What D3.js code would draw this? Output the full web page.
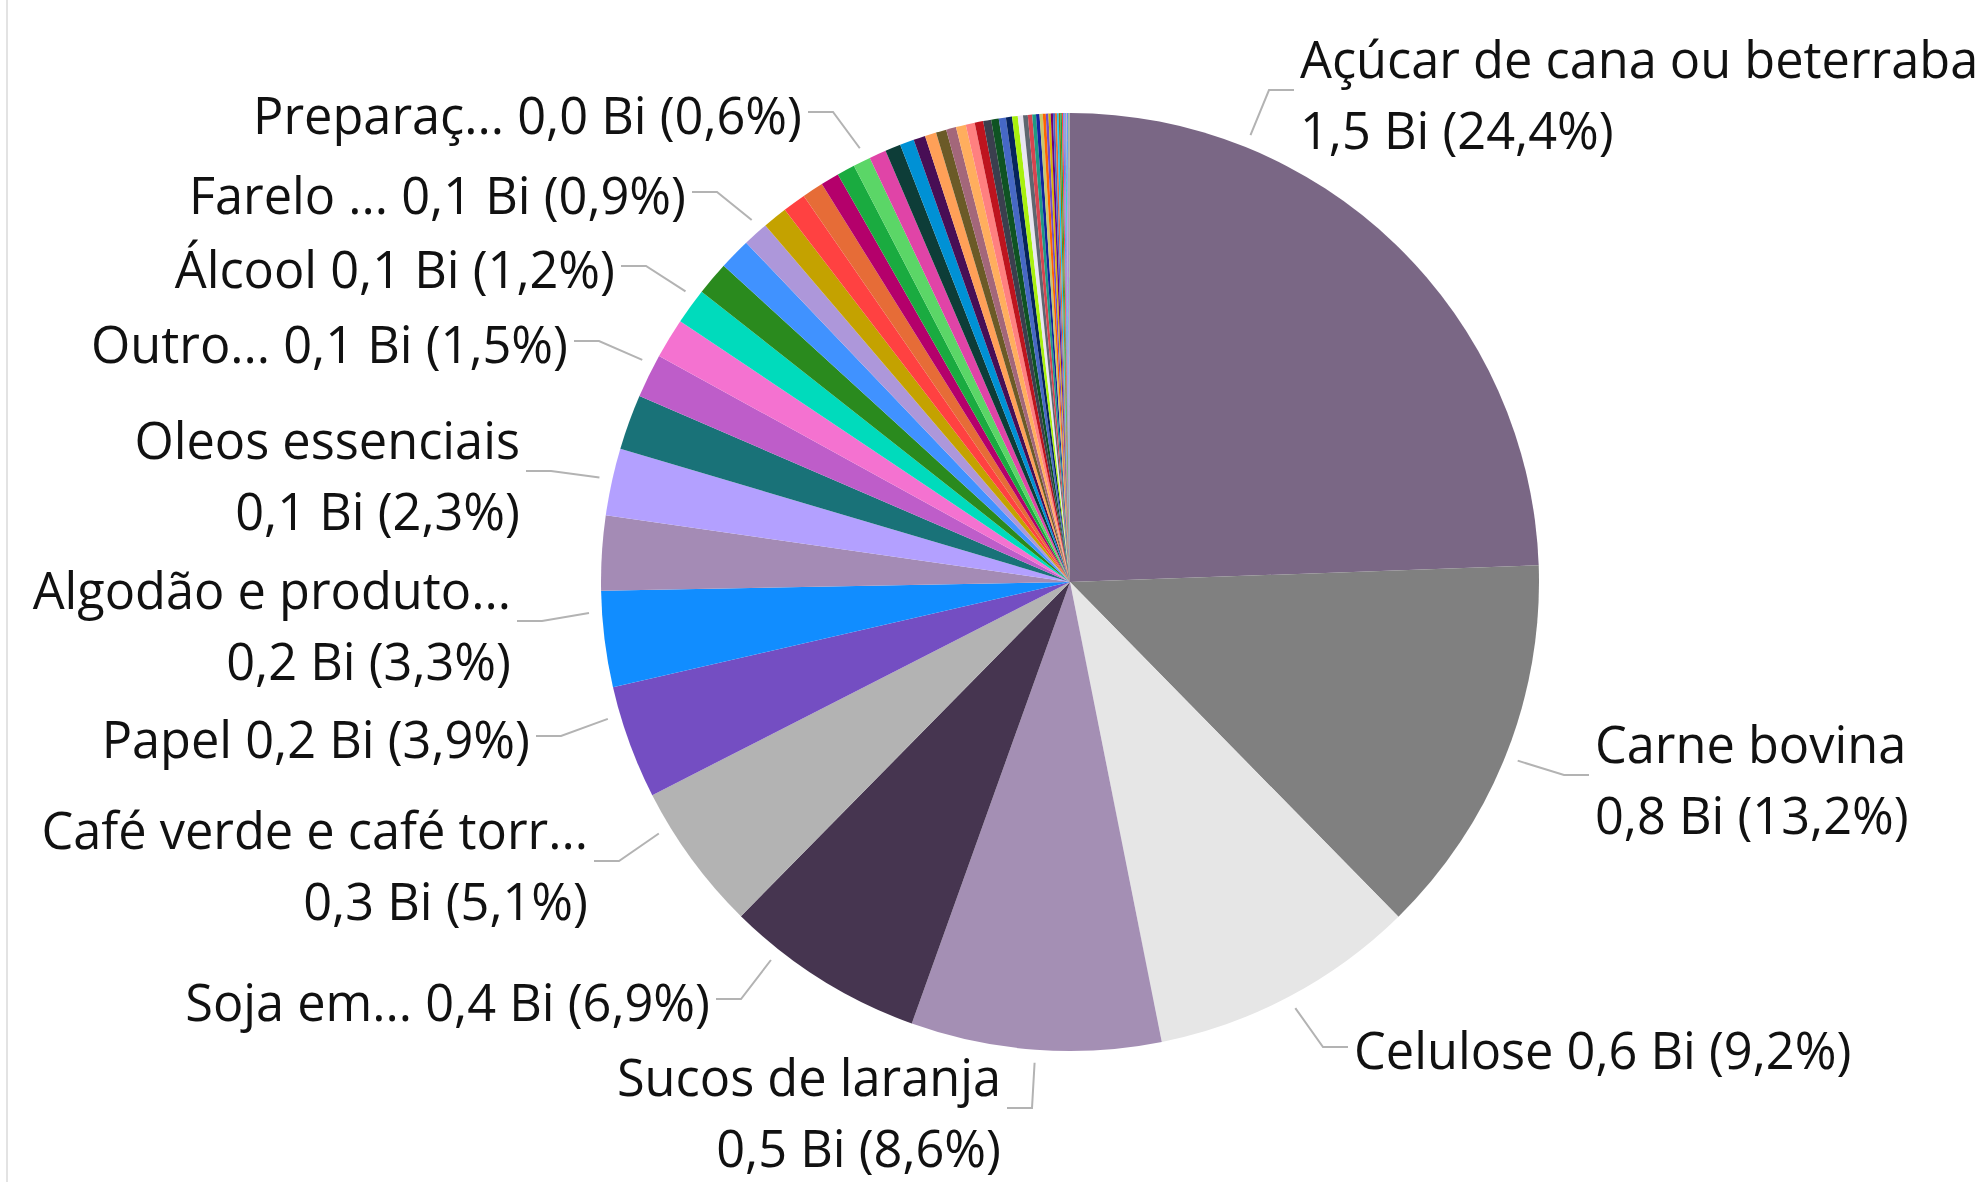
<!DOCTYPE html>
<html>
<head>
<meta charset="utf-8">
<script src="https://cdnjs.cloudflare.com/ajax/libs/d3/7.8.5/d3.min.js"></script>
<style>
  body { margin: 0; background: #fff; }
  svg { display: block; }
  .label { font-family: "Open Sans", sans-serif; font-size: 50.5px; fill: #111; }
</style>
</head>
<body>
<div class="chartContainer"></div>
<script>
// SVG area
var svgWidth = 1980;
var svgHeight = 1182;

// Slice categories, clockwise from 12 o'clock (unlabeled slices have no visible name)
var categories = [
    "Açúcar de cana ou beterraba", "Carne bovina", "Celulose", "Sucos de laranja",
    "Soja em...", "Café verde e café torr...", "Papel", "Algodão e produto...",
    "Categoria 9", "Oleos essenciais", "Categoria 11", "Outro...", "Categoria 13",
    "Álcool", "Categoria 15", "Categoria 16", "Farelo ...", "Categoria 18",
    "Categoria 19", "Categoria 20", "Categoria 21", "Categoria 22", "Preparaç...",
    "Categoria 24", "Categoria 25", "Categoria 26", "Categoria 27", "Categoria 28",
    "Categoria 29", "Categoria 30", "Categoria 31", "Categoria 32", "Categoria 33",
    "Categoria 34", "Categoria 35", "Categoria 36", "Categoria 37", "Categoria 38",
    "Categoria 39", "Categoria 40", "Categoria 41", "Categoria 42", "Categoria 43",
    "Categoria 44", "Categoria 45", "Categoria 46", "Categoria 47", "Categoria 48",
    "Categoria 49", "Categoria 50", "Categoria 51", "Categoria 52", "Categoria 53",
    "Categoria 54", "Categoria 55", "Categoria 56", "Categoria 57", "Categoria 58",
    "Categoria 59", "Categoria 60", "Categoria 61", "Categoria 62", "Categoria 63",
    "Categoria 64"
];

// Values in millions
var values = [
    1501, 812, 566, 529, 424, 314, 240, 203,
    158, 142, 117, 93, 85, 76, 71, 67,
    54, 52, 49, 45, 39, 38, 37, 36,
    33, 30, 25, 24, 22, 21, 21, 19,
    18, 17, 16, 15, 13, 12, 11, 10,
    9.2, 8.0, 7.4, 6.8, 6.2, 5.5, 4.9, 4.6,
    4.3, 4.0, 3.7, 3.4, 3.1, 2.8, 2.5, 2.2,
    1.9, 1.7, 1.5, 1.3, 1.1, 0.9, 0.7, 0.5
];

var colors = [
    "#7a6785", "#808080", "#e6e6e6", "#a48fb4", "#463550", "#b3b3b3", "#744ec2", "#118dff",
    "#a48bb5", "#b3a0ff", "#197278", "#be5dc9", "#f472d0", "#00dbbc", "#2a8a1e", "#4092ff",
    "#ad97da", "#c4a200", "#ff4141", "#e66c37", "#b4006b", "#1aab40", "#5bd667", "#e044a7",
    "#0d3d38", "#0091d5", "#480e55", "#ffa058", "#6b5a27", "#a3677a", "#ffae5e", "#ff8080",
    "#be141e", "#3b3f4e", "#0f5323", "#4668c5", "#06245c", "#a8f00e", "#e9e5f2", "#5f6670",
    "#d64550", "#1f9a85", "#12239e", "#c8c86b", "#ff6300", "#744ec2", "#d9b300", "#6b007b",
    "#4668c5", "#e66c37", "#15c6f4", "#99700a", "#1aab40", "#ff4141", "#4092ff", "#be5dc9",
    "#00dbbc", "#f472d0", "#118dff", "#e044a7", "#5bd667", "#ffa058", "#197278", "#b5a1ff"
];

// Data labels: slice index, text edge x, first baseline y, two lines or one,
// and where on the slice the leader line attaches (fraction of its angle)
var labelIndex = [0, 1, 2, 3, 4, 5, 6, 7, 9, 11, 13, 16, 22];
var labelTwoLines = [true, true, false, true, false, true, false, true, true, false, false, false, false];
var labelX = [1300, 1595, 1354, 1001, 710, 588, 530, 511, 520, 568, 615, 686, 802];
var labelY = [78, 763, 1069, 1096, 1021, 849, 758, 609, 459, 363, 288, 214, 134];
var labelFrac = [0.25, 0.5, 0.5, 0.5, 0.75, 0.76, 0.75, 0.78, 0.52, 0.75, 0.74, 0.74, 0.73];

var cx = 1070, cy = 582, radius = 469;
var lineHeight = 71;

var svg = d3.select(".chartContainer")
    .append("svg")
    .attr("width", svgWidth)
    .attr("height", svgHeight);

// thin frame line on the left edge
svg.append("line")
    .attr("x1", 7).attr("x2", 7)
    .attr("y1", 0).attr("y2", svgHeight)
    .attr("stroke", "#e3e3e3")
    .attr("stroke-width", 2);

var data = categories.map(function(c, i) {
    return { name: c, value: values[i], color: colors[i] };
});
var total = d3.sum(values);

var pie = d3.pie()
    .sort(null)
    .value(function(d) { return d.value; });

var arcs = pie(data);

var arc = d3.arc()
    .innerRadius(0)
    .outerRadius(radius);

var pieGroup = svg.append("g")
    .attr("transform", `translate(${cx}, ${cy})`);

pieGroup.selectAll("path")
    .data(arcs)
    .enter().append("path")
    .attr("d", arc)
    .attr("fill", function(d) { return d.data.color; });

// Portuguese number formats
var pt = d3.formatLocale({ decimal: ",", thousands: ".", grouping: [3], currency: ["R$", ""] });
var fmt1 = pt.format(".1f");

var labelGroup = svg.append("g");

labelIndex.forEach(function(idx, k) {
    var a = arcs[idx];
    var ang = a.startAngle + (a.endAngle - a.startAngle) * labelFrac[k];
    var rAttach = radius + 13;
    var px = cx + rAttach * Math.sin(ang);
    var py = cy - rAttach * Math.cos(ang);

    var rightSide = labelX[k] > cx;
    var leaderY = labelTwoLines[k] ? labelY[k] + 12 : labelY[k] - 22;
    var endX = rightSide ? labelX[k] - 6 : labelX[k] + 6;
    var elbowX = rightSide ? endX - 25 : endX + 25;

    labelGroup.append("polyline")
        .attr("points", [[px, py], [elbowX, leaderY], [endX, leaderY]].map(function(p) { return p.join(","); }).join(" "))
        .attr("fill", "none")
        .attr("stroke", "#b3b3b3")
        .attr("stroke-width", 2);

    var valueText = fmt1(a.data.value / 1000) + " Bi (" + fmt1(a.data.value / total * 100) + "%)";
    var lines = labelTwoLines[k] ? [a.data.name, valueText] : [a.data.name + " " + valueText];

    labelGroup.selectAll(null)
        .data(lines)
        .enter().append("text")
        .attr("class", "label")
        .attr("x", labelX[k])
        .attr("y", function(d, i) { return labelY[k] + i * lineHeight; })
        .attr("text-anchor", rightSide ? "start" : "end")
        .text(function(d) { return d; });
});
</script>
</body>
</html>
